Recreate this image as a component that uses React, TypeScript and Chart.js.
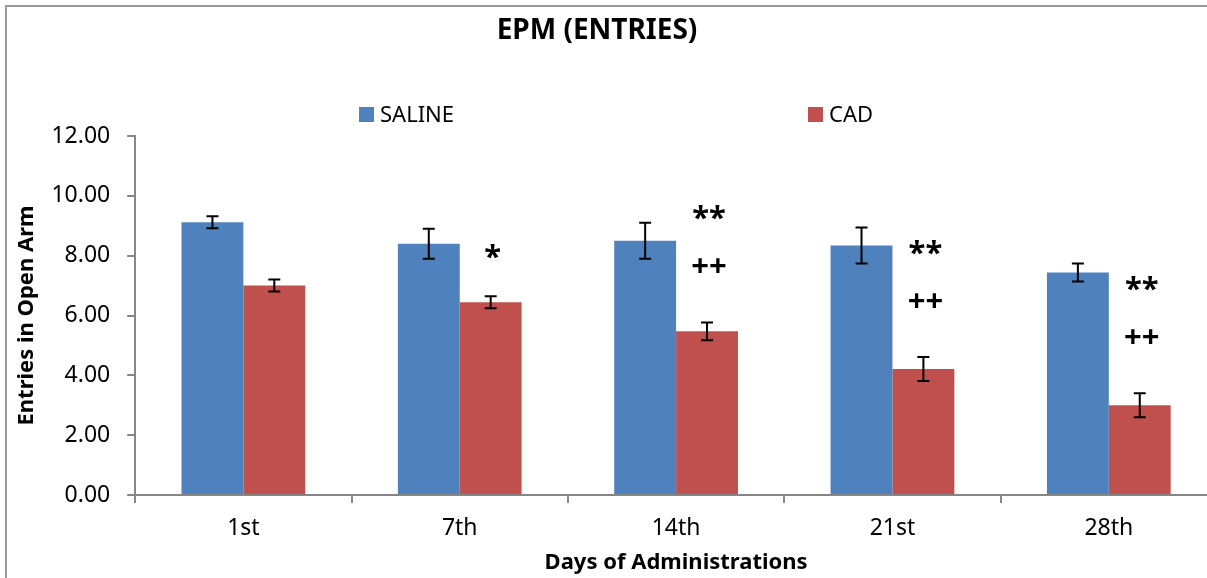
import React, { useEffect, useRef } from 'react';
import { Chart, registerables } from 'chart.js';

Chart.register(...registerables);

const chartTitle = 'EPM (ENTRIES)';
const xAxisTitle = 'Days of Administrations';
const yAxisTitle = 'Entries in Open Arm';
const categories = ['1st', '7th', '14th', '21st', '28th'];
const seriesNames = ['SALINE', 'CAD'];
const salineMeans = [9.12, 8.4, 8.5, 8.34, 7.44];
const salineErrors = [0.2, 0.5, 0.6, 0.6, 0.3];
const cadMeans = [7.0, 6.44, 5.47, 4.21, 3.0];
const cadErrors = [0.2, 0.2, 0.3, 0.4, 0.4];
const sigVsSaline = ['', '*', '**', '**', '**'];
const sigVsPrevious = ['', '', '++', '++', '++'];
const yTicksMin = 0;
const yTicksMax = 12;
const yTicksStep = 2;

const FONT = "'Noto Sans', 'Open Sans', sans-serif";
const BLUE = '#4F81BD';
const RED = '#C0504D';
const AXIS = '#868686';

export default function App() {
  const ref = useRef<HTMLCanvasElement>(null);

  useEffect(() => {
    const canvas = ref.current;
    if (!canvas) return;
    const errors = [salineErrors, cadErrors];

    const errorBars = {
      id: 'errorBars',
      afterDatasetsDraw(chart: any) {
        const ctx = chart.ctx;
        const y = chart.scales.y;
        ctx.save();
        ctx.strokeStyle = '#000';
        ctx.lineWidth = 2;
        chart.data.datasets.forEach((ds: any, i: number) => {
          const meta = chart.getDatasetMeta(i);
          meta.data.forEach((el: any, j: number) => {
            const v = ds.data[j];
            const e = errors[i][j];
            const yt = y.getPixelForValue(v + e);
            const yb = y.getPixelForValue(v - e);
            const x = el.x;
            const cap = 6;
            ctx.beginPath();
            ctx.moveTo(x, yt);
            ctx.lineTo(x, yb);
            ctx.moveTo(x - cap, yt);
            ctx.lineTo(x + cap, yt);
            ctx.moveTo(x - cap, yb);
            ctx.lineTo(x + cap, yb);
            ctx.stroke();
          });
        });
        ctx.restore();
      },
    };

    const marks = {
      id: 'marks',
      afterDraw(chart: any) {
        const ctx = chart.ctx;
        const y = chart.scales.y;
        const meta = chart.getDatasetMeta(1);
        ctx.save();
        ctx.fillStyle = '#000';
        ctx.font = `bold 31px ${FONT}`;
        ctx.textAlign = 'center';
        ctx.textBaseline = 'alphabetic';
        meta.data.forEach((el: any, j: number) => {
          const errTop = y.getPixelForValue(cadMeans[j] + cadErrors[j]);
          const x = el.x + 2;
          if (sigVsPrevious[j]) {
            ctx.fillText(sigVsPrevious[j], x, errTop - 46);
            if (sigVsSaline[j]) ctx.fillText(sigVsSaline[j], x, errTop - 94);
          } else if (sigVsSaline[j]) {
            ctx.fillText(sigVsSaline[j], x, errTop - 29);
          }
        });
        ctx.restore();
      },
    };

    const header = {
      id: 'header',
      afterDraw(chart: any) {
        const ctx = chart.ctx;
        ctx.save();
        ctx.fillStyle = '#000';
        ctx.font = `bold 28px ${FONT}`;
        ctx.textAlign = 'center';
        ctx.textBaseline = 'alphabetic';
        ctx.fillText(chartTitle, 597, 39);
        const lx = [359, 808];
        ctx.font = `22px ${FONT}`;
        ctx.textAlign = 'left';
        chart.data.datasets.forEach((ds: any, i: number) => {
          ctx.fillStyle = ds.backgroundColor;
          ctx.fillRect(lx[i], 107, 15, 15);
          ctx.fillStyle = '#000';
          ctx.fillText(ds.label, lx[i] + 21, 122);
        });
        ctx.restore();
      },
    };

    const chart = new Chart(canvas, {
      type: 'bar',
      data: {
        labels: categories,
        datasets: [
          { label: seriesNames[0], data: salineMeans, backgroundColor: BLUE, categoryPercentage: 0.572, barPercentage: 1.0 },
          { label: seriesNames[1], data: cadMeans, backgroundColor: RED, categoryPercentage: 0.572, barPercentage: 1.0 },
        ],
      },
      options: {
        animation: false,
        responsive: false,
        devicePixelRatio: 1,
        layout: { padding: { top: 136, left: 10, right: 13, bottom: 2 } },
        plugins: {
          legend: { display: false },
          title: { display: false },
          tooltip: { enabled: false },
        },
        scales: {
          x: {
            offset: true,
            grid: { display: true, drawOnChartArea: false, drawTicks: true, tickLength: 8, color: AXIS, lineWidth: 2, offset: true },
            border: { color: AXIS, width: 2 },
            ticks: { color: '#000', font: { family: FONT, size: 23 }, padding: 12 },
            title: { display: true, text: xAxisTitle, color: '#000', font: { family: FONT, size: 22, weight: 'bold' }, padding: { top: -5, bottom: 0 } },
          },
          y: {
            min: yTicksMin,
            max: yTicksMax,
            grid: { display: true, drawOnChartArea: false, drawTicks: true, tickLength: 8, color: AXIS, lineWidth: 2 },
            border: { color: AXIS, width: 2 },
            ticks: {
              stepSize: yTicksStep,
              color: '#000',
              font: { family: FONT, size: 23 },
              padding: 17,
              callback: (v: any) => Number(v).toFixed(2),
            },
            title: { display: true, text: yAxisTitle, color: '#000', font: { family: FONT, size: 22, weight: 'bold' }, padding: { top: 4, bottom: -6 } },
          },
        },
      },
      plugins: [errorBars, marks, header],
    });
    return () => chart.destroy();
  }, []);

  return (
    <div style={{ position: 'fixed', left: 0, top: 0, width: 1207, height: 578, overflow: 'hidden', background: '#fff' }}>
      <div style={{ position: 'absolute', left: 5, top: 5, width: 1400, height: 800, borderLeft: '2px solid #9a9a9a', borderTop: '2px solid #9a9a9a' }} />
      <canvas ref={ref} width={1230} height={578} style={{ position: 'absolute', left: 0, top: 0, width: 1230, height: 578 }} />
    </div>
  );
}
